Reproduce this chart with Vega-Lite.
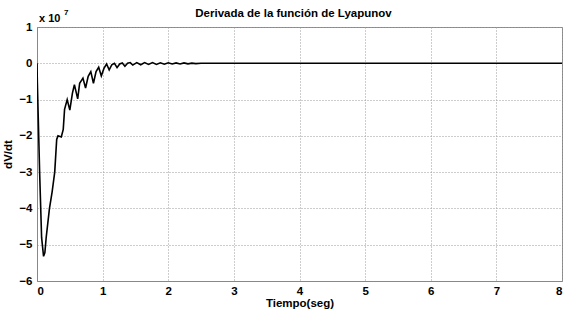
{
  "$schema": "https://vega.github.io/schema/vega-lite/v6.json",
  "width": 525,
  "height": 254,
  "autosize": {"type": "none"},
  "padding": {"left": 37, "top": 27, "right": 7, "bottom": 31},
  "background": "white",
  "title": {
    "text": "Derivada de la función de Lyapunov",
    "font": "Liberation Sans",
    "fontSize": 11.5,
    "fontWeight": "bold",
    "color": "black",
    "offset": 6,
    "baseline": "bottom",
    "dy": 27,
    "dx": -6
  },
  "config": {
    "view": {"stroke": "#888888", "strokeWidth": 1},
    "axis": {
      "labelFont": "Liberation Sans",
      "labelFontWeight": "bold",
      "labelFontSize": 11.5,
      "labelColor": "black",
      "titleFont": "Liberation Sans",
      "titleFontWeight": "bold",
      "titleFontSize": 11.5,
      "titleColor": "black",
      "grid": true,
      "gridColor": "#9a9a9a",
      "gridDash": [1, 2],
      "gridWidth": 1,
      "domainColor": "#888888",
      "ticks": false
    }
  },
  "data": {
    "values": [
      {"t": 0, "v": 0},
      {"t": 0.005, "v": -0.5},
      {"t": 0.04, "v": -3.0},
      {"t": 0.07, "v": -4.8},
      {"t": 0.1, "v": -5.32},
      {"t": 0.12, "v": -5.22},
      {"t": 0.14, "v": -4.8},
      {"t": 0.19, "v": -4.0},
      {"t": 0.23, "v": -3.55},
      {"t": 0.27, "v": -3.0},
      {"t": 0.3, "v": -2.1},
      {"t": 0.32, "v": -2.0},
      {"t": 0.37, "v": -2.03},
      {"t": 0.4, "v": -1.82},
      {"t": 0.42, "v": -1.27},
      {"t": 0.46, "v": -1.0},
      {"t": 0.5, "v": -1.29},
      {"t": 0.54, "v": -0.82},
      {"t": 0.57, "v": -0.59},
      {"t": 0.62, "v": -0.98},
      {"t": 0.65, "v": -0.55},
      {"t": 0.7, "v": -0.41},
      {"t": 0.74, "v": -0.68},
      {"t": 0.78, "v": -0.36},
      {"t": 0.82, "v": -0.23},
      {"t": 0.86, "v": -0.55},
      {"t": 0.9, "v": -0.23},
      {"t": 0.94, "v": -0.11},
      {"t": 0.98, "v": -0.35},
      {"t": 1.02, "v": -0.14},
      {"t": 1.06, "v": -0.02},
      {"t": 1.1, "v": -0.18},
      {"t": 1.14, "v": -0.04},
      {"t": 1.18, "v": 0.0},
      {"t": 1.22, "v": -0.12},
      {"t": 1.26, "v": -0.02},
      {"t": 1.3, "v": 0.01},
      {"t": 1.34, "v": -0.08},
      {"t": 1.38, "v": 0.0},
      {"t": 1.42, "v": 0.02},
      {"t": 1.46, "v": -0.05},
      {"t": 1.52, "v": 0.02},
      {"t": 1.58, "v": -0.04},
      {"t": 1.64, "v": 0.02},
      {"t": 1.7, "v": -0.03},
      {"t": 1.76, "v": 0.02},
      {"t": 1.82, "v": -0.03},
      {"t": 1.88, "v": 0.015},
      {"t": 1.94, "v": -0.025},
      {"t": 2.0, "v": 0.015},
      {"t": 2.06, "v": -0.02},
      {"t": 2.12, "v": 0.01},
      {"t": 2.18, "v": -0.02},
      {"t": 2.24, "v": 0.01},
      {"t": 2.3, "v": -0.015},
      {"t": 2.36, "v": 0.005},
      {"t": 2.42, "v": -0.01},
      {"t": 2.5, "v": 0},
      {"t": 8, "v": 0}
    ]
  },
  "encoding": {
    "x": {
      "field": "t",
      "type": "quantitative",
      "scale": {"domain": [0, 8], "nice": false},
      "axis": {"values": [0, 1, 2, 3, 4, 5, 6, 7, 8], "format": "d", "title": "Tiempo(seg)", "labelPadding": 4, "titlePadding": 1}
    },
    "y": {
      "field": "v",
      "type": "quantitative",
      "scale": {"domain": [-6, 1], "nice": false},
      "axis": {"values": [-6, -5, -4, -3, -2, -1, 0, 1], "format": "d", "title": "dV/dt", "labelPadding": 5, "titlePadding": 5}
    }
  },
  "layer": [
    {
      "mark": {"type": "line", "color": "black", "strokeWidth": 1.6, "clip": true}
    },
    {
      "data": {"values": [{"t": 0, "v": 1, "label": "x 10"}]},
      "mark": {"type": "text", "align": "left", "baseline": "bottom", "dx": 2, "dy": -3, "font": "Liberation Sans", "fontWeight": "bold", "fontSize": 11, "color": "black"},
      "encoding": {
        "text": {"field": "label"}
      }
    },
    {
      "data": {"values": [{"t": 0, "v": 1, "label": "7"}]},
      "mark": {"type": "text", "align": "left", "baseline": "bottom", "dx": 27, "dy": -10, "font": "Liberation Sans", "fontWeight": "bold", "fontSize": 8, "color": "black"},
      "encoding": {
        "text": {"field": "label"}
      }
    }
  ]
}
